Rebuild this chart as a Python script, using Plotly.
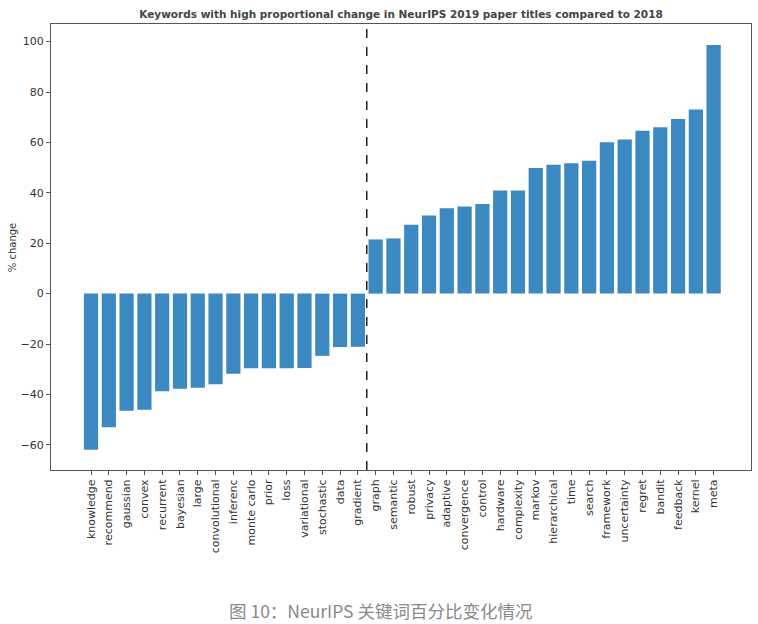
import plotly.graph_objects as go

keywords = ["knowledge", "recommend", "gaussian", "convex", "recurrent", "bayesian", "large",
            "convolutional", "inferenc", "monte carlo", "prior", "loss", "variational",
            "stochastic", "data", "gradient", "graph", "semantic", "robust", "privacy",
            "adaptive", "convergence", "control", "hardware", "complexity", "markov",
            "hierarchical", "time", "search", "framework", "uncertainty", "regret", "bandit",
            "feedback", "kernel", "meta"]
pct_change = [-62.0, -53.0, -46.5, -46.1, -38.7, -37.8, -37.4, -36.0, -31.8, -29.6, -29.6,
              -29.6, -29.5, -24.7, -21.2, -21.1, 21.5, 21.9, 27.3, 31.0, 33.9, 34.6, 35.6,
              40.9, 40.9, 49.9, 51.1, 51.7, 52.7, 60.1, 61.2, 64.6, 66.0, 69.3, 73.1, 98.7]
title_text = "Keywords with high proportional change in NeurIPS 2019 paper titles compared to 2018"
y_label = "% change"
caption = "图 10：NeurIPS 关键词百分比变化情况"

idx = list(range(len(keywords)))
n_neg = sum(1 for v in pct_change if v < 0)

fig = go.Figure()
fig.add_trace(go.Bar(x=idx, y=pct_change, width=0.8,
                     marker=dict(color="#3c88c1", line=dict(width=0))))

fig.add_shape(type="line", xref="x", yref="paper", x0=n_neg - 0.5, x1=n_neg - 0.5,
              y0=0, y1=1, line=dict(color="#222222", width=1.5, dash="dash"))

axis_common = dict(showline=True, linecolor="#555555", linewidth=1, mirror=True,
                   ticks="outside", ticklen=4, tickcolor="#555555", showgrid=False,
                   zeroline=False, automargin=False,
                   tickfont=dict(family="DejaVu Sans", size=11, color="#333333"))

fig.update_xaxes(range=[-2.25, 37.1], tickmode="array", tickvals=idx, ticktext=keywords,
                 tickangle=-90, **axis_common)
fig.update_yaxes(range=[-70, 107], tickmode="array", tickvals=[-60, -40, -20, 0, 20, 40, 60, 80, 100],
                 ticktext=["−60", "−40", "−20", "0", "20", "40", "60", "80", "100"],
                 **axis_common)

fig.update_layout(
    width=758, height=624,
    margin=dict(l=51, r=7, t=24, b=154),
    paper_bgcolor="white", plot_bgcolor="white",
    showlegend=False,
    title=dict(text="<b>" + title_text + "</b>", x=401 / 758, xanchor="center",
               xref="container", yref="container", y=1 - 14 / 624, yanchor="middle",
               font=dict(family="DejaVu Sans", size=10.5, color="#444444")),
    annotations=[
        dict(text=y_label, xref="paper", yref="y", x=-(51 - 12) / 700, y=18,
             xanchor="center", yanchor="middle", textangle=-90, showarrow=False,
             font=dict(family="DejaVu Sans", size=10, color="#333333")),
        dict(text=caption, xref="paper", yref="paper", x=(380 - 51) / 700, y=-(610 - 470) / 446,
             xanchor="center", yanchor="middle", showarrow=False,
             font=dict(family="Noto Sans CJK SC", size=17.5, color="#8a8a8a")),
    ],
)

fig.write_html("out.html", config={"displayModeBar": False},
               post_script="document.body.style.margin='0px';document.body.style.overflow='hidden';")
